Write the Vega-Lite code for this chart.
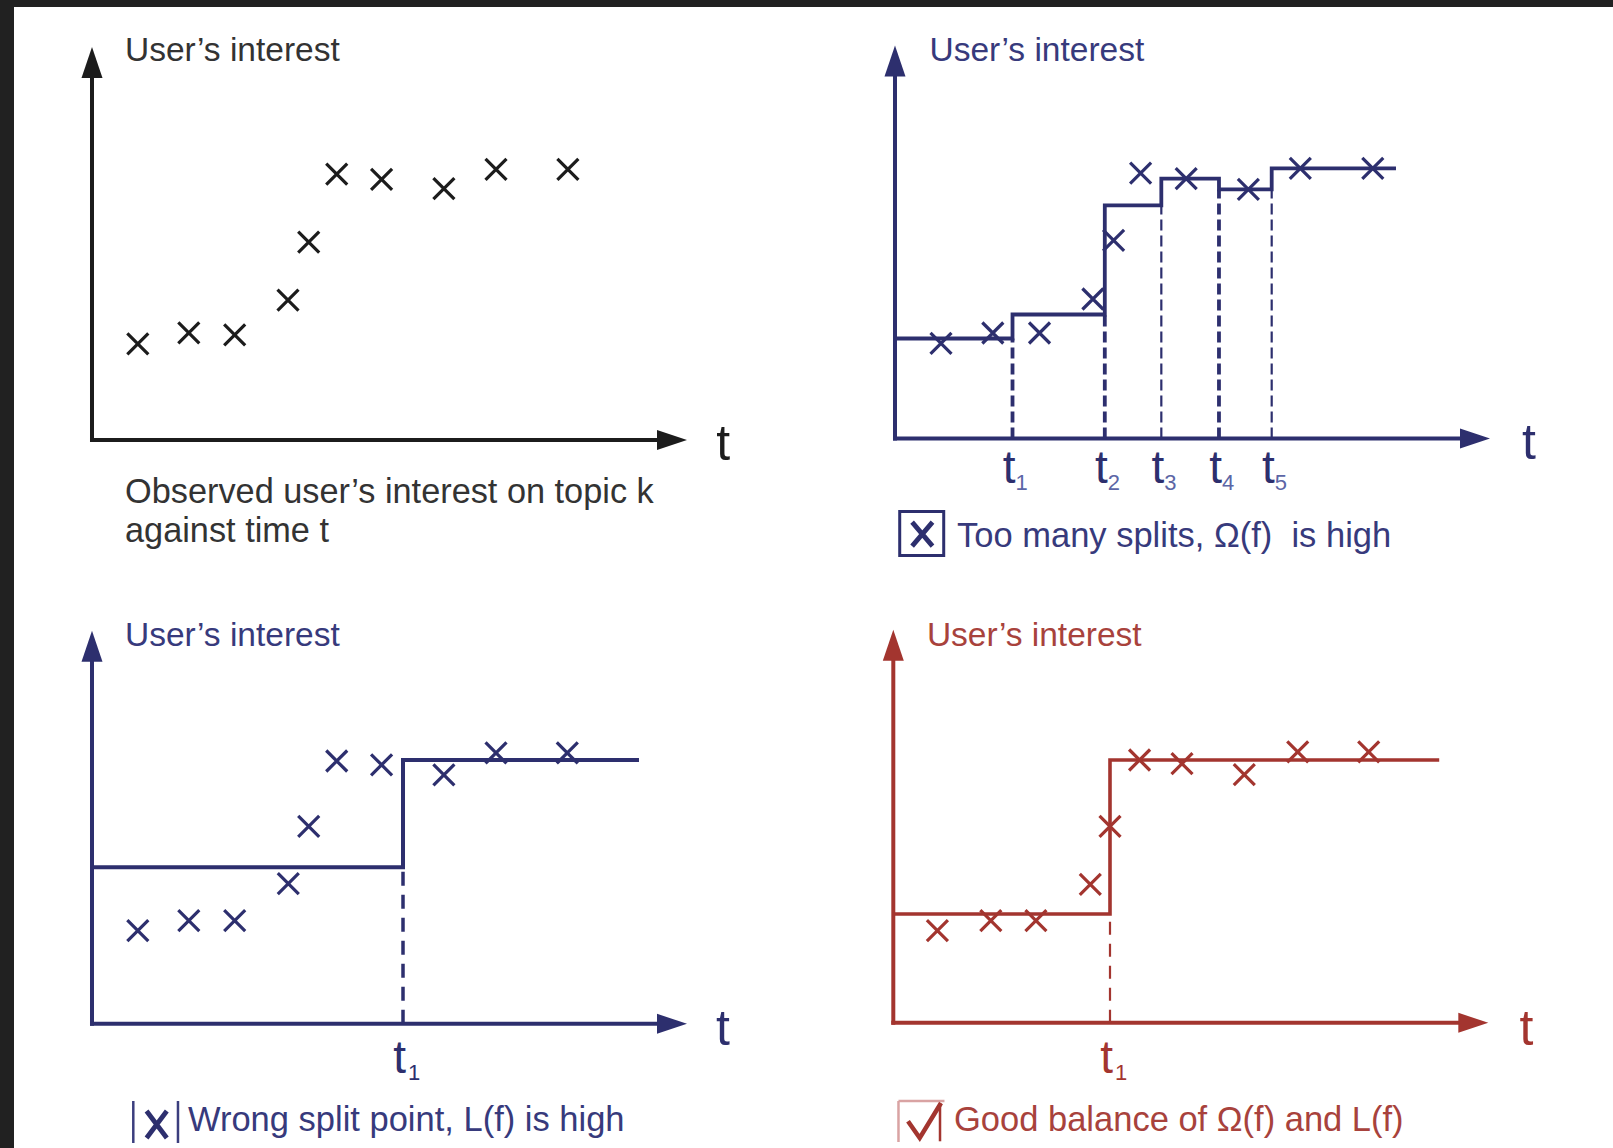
{
  "$schema": "https://vega.github.io/schema/vega-lite/v6.json",
  "background": "#212121",
  "padding": {"left": 14, "top": 7, "right": 0, "bottom": 0},
  "autosize": {"type": "pad"},
  "spacing": 0,
  "bounds": "flush",
  "columns": 2,
  "config": {"view": {"fill": "white", "stroke": null}, "text": {"font": "Liberation Sans"}},
  "concat": [
    {
      "width": 786, "height": 573,
      "encoding": {
        "x": {"field": "x", "type": "quantitative", "scale": {"domain": [-13.109, 118.992], "nice": false, "zero": false}, "axis": null},
        "y": {"field": "y", "type": "quantitative", "scale": {"domain": [-35.623, 110.178], "nice": false, "zero": false}, "axis": null}
      },
      "layer": [
        {"data": {"values": [{"x": 0, "y": 0, "x2": 0, "y2": 97}, {"x": 0, "y": 0, "x2": 97, "y2": 0}]},
         "mark": {"type": "rule", "color": "#1c1c1c", "strokeWidth": 4, "strokeCap": "square"},
         "encoding": {"x2": {"field": "x2"}, "y2": {"field": "y2"}}},
        {"data": {"values": [{"x": 0, "y": 100, "dir": "up"}, {"x": 100, "y": 0, "dir": "right"}]},
         "mark": {"type": "point", "filled": true, "size": 400, "opacity": 1, "color": "#1c1c1c", "strokeWidth": 0},
         "encoding": {"shape": {"field": "dir", "type": "nominal", "scale": {"domain": ["up", "right"], "range": ["M0,0L1.05,3.1L-1.05,3.1Z", "M0,0L-3,-1L-3,1Z"]}, "legend": null}}},
        {"data": {"values": [
          {"x": 7.70, "y": 24.43}, {"x": 16.27, "y": 27.23}, {"x": 23.98, "y": 26.72}, {"x": 32.94, "y": 35.62}, {"x": 36.42, "y": 50.38},
          {"x": 41.13, "y": 67.68}, {"x": 48.67, "y": 66.31}, {"x": 59.14, "y": 63.94}, {"x": 67.90, "y": 68.85}, {"x": 79.98, "y": 68.85}]},
         "mark": {"type": "point", "shape": "M-1,-1L1,1M-1,1L1,-1", "filled": false, "size": 441, "strokeWidth": 3.2, "color": "#1c1c1c", "opacity": 1}},
        {"data": {"values": [{"x": 5.55, "y": 96.44, "label": "User’s interest"}]},
         "mark": {"type": "text", "align": "left", "baseline": "alphabetic", "fontSize": 33.5, "color": "#333333"},
         "encoding": {"text": {"field": "label"}}},
        {"data": {"values": [
          {"x": 5.55, "y": -16.03, "label": "Observed user’s interest on topic k"},
          {"x": 5.55, "y": -25.95, "label": "against time t"}]},
         "mark": {"type": "text", "align": "left", "baseline": "alphabetic", "fontSize": 34.3, "color": "#333333"},
         "encoding": {"text": {"field": "label"}}},
        {"data": {"values": [{"x": 104.9, "y": -5.09, "label": "t"}]},
         "mark": {"type": "text", "align": "left", "baseline": "alphabetic", "fontSize": 50, "color": "#1c1c1c"},
         "encoding": {"text": {"field": "label"}}}
      ]
    },
    {
      "width": 813, "height": 573,
      "encoding": {
        "x": {"field": "x", "type": "quantitative", "scale": {"domain": [-15.966, 120.672], "nice": false, "zero": false}, "axis": null},
        "y": {"field": "y", "type": "quantitative", "scale": {"domain": [-36.031, 109.771], "nice": false, "zero": false}, "axis": null}
      },
      "layer": [
        {"data": {"values": [{"x": 0, "y": 0, "x2": 0, "y2": 97}, {"x": 0, "y": 0, "x2": 97, "y2": 0}]},
         "mark": {"type": "rule", "color": "#2d2f6e", "strokeWidth": 4, "strokeCap": "square"},
         "encoding": {"x2": {"field": "x2"}, "y2": {"field": "y2"}}},
        {"data": {"values": [{"x": 0, "y": 100, "dir": "up"}, {"x": 100, "y": 0, "dir": "right"}]},
         "mark": {"type": "point", "filled": true, "size": 400, "opacity": 1, "color": "#2d2f6e", "strokeWidth": 0},
         "encoding": {"shape": {"field": "dir", "type": "nominal", "scale": {"domain": ["up", "right"], "range": ["M0,0L1.05,3.1L-1.05,3.1Z", "M0,0L-3,-1L-3,1Z"]}, "legend": null}}},
        {"data": {"values": [
          {"x": 19.75, "y": 0, "y2": 25.42, "w": "thick"}, {"x": 35.26, "y": 0, "y2": 31.53, "w": "thick"},
          {"x": 44.76, "y": 0, "y2": 59.31, "w": "thin"}, {"x": 54.45, "y": 0, "y2": 63.36, "w": "thick"},
          {"x": 63.31, "y": 0, "y2": 63.36, "w": "thin"}]},
         "mark": {"type": "rule", "color": "#2d2f6e", "strokeDash": [11, 5]},
         "encoding": {"y2": {"field": "y2"}, "strokeWidth": {"field": "w", "type": "nominal", "scale": {"domain": ["thick", "thin"], "range": [3.8, 2.2]}, "legend": null}}},
        {"data": {"values": [
          {"i": 0, "x": 0, "y": 25.42}, {"i": 1, "x": 19.75, "y": 25.42}, {"i": 2, "x": 19.75, "y": 31.53}, {"i": 3, "x": 35.26, "y": 31.53},
          {"i": 4, "x": 35.26, "y": 59.31}, {"i": 5, "x": 44.76, "y": 59.31}, {"i": 6, "x": 44.76, "y": 66.08}, {"i": 7, "x": 54.45, "y": 66.08},
          {"i": 8, "x": 54.45, "y": 63.36}, {"i": 9, "x": 63.31, "y": 63.36}, {"i": 10, "x": 63.31, "y": 68.73}, {"i": 11, "x": 84.20, "y": 68.73}]},
         "mark": {"type": "line", "color": "#2d2f6e", "strokeWidth": 3.8, "strokeJoin": "miter"},
         "encoding": {"order": {"field": "i", "type": "quantitative"}}},
        {"data": {"values": [
          {"x": 7.73, "y": 24.20}, {"x": 16.44, "y": 26.82}, {"x": 24.29, "y": 26.82}, {"x": 33.26, "y": 35.47}, {"x": 36.74, "y": 50.36},
          {"x": 41.28, "y": 67.53}, {"x": 48.94, "y": 66.08}, {"x": 59.39, "y": 63.36}, {"x": 68.12, "y": 68.73}, {"x": 80.30, "y": 68.73}]},
         "mark": {"type": "point", "shape": "M-1,-1L1,1M-1,1L1,-1", "filled": false, "size": 441, "strokeWidth": 3.2, "color": "#2d2f6e", "opacity": 1}},
        {"data": {"values": [
          {"x": 19.75, "y": -11.43, "lab": "t", "sub": "1"}, {"x": 35.26, "y": -11.43, "lab": "t", "sub": "2"},
          {"x": 44.76, "y": -11.43, "lab": "t", "sub": "3"}, {"x": 54.45, "y": -11.43, "lab": "t", "sub": "4"},
          {"x": 63.31, "y": -11.43, "lab": "t", "sub": "5"}]},
         "layer": [
           {"mark": {"type": "text", "align": "right", "baseline": "alphabetic", "dx": 3, "fontSize": 46, "color": "#2d2f6e"}, "encoding": {"text": {"field": "lab"}}},
           {"mark": {"type": "text", "align": "left", "baseline": "alphabetic", "dx": 3, "dy": 7, "fontSize": 22, "color": "#5c66a6"}, "encoding": {"text": {"field": "sub"}}}
         ]},
        {"data": {"values": [{"x": 4.49, "y": -24.17}]},
         "mark": {"type": "point", "shape": "square", "filled": false, "size": 1936, "strokeWidth": 3, "color": "#2d2f6e", "opacity": 1}},
        {"data": {"values": [{"x": 4.59, "y": -24.37}]},
         "mark": {"type": "point", "shape": "M-0.85,-1L0.85,1M-0.85,1L0.85,-1", "filled": false, "size": 576, "strokeWidth": 4.8, "color": "#2d2f6e", "opacity": 1}},
        {"data": {"values": [
          {"x": 5.8, "y": 96.03, "label": "User’s interest", "fs": "a"},
          {"x": 10.42, "y": -27.63, "label": "Too many splits, Ω(f)\u00a0 is high", "fs": "b"}]},
         "mark": {"type": "text", "align": "left", "baseline": "alphabetic", "color": "#373a7c"},
         "encoding": {"text": {"field": "label"}, "size": {"field": "fs", "type": "nominal", "scale": {"domain": ["a", "b"], "range": [33.5, 34.5]}, "legend": null}}},
        {"data": {"values": [{"x": 105.38, "y": -5.24, "label": "t"}]},
         "mark": {"type": "text", "align": "left", "baseline": "alphabetic", "fontSize": 50, "color": "#2d2f6e"},
         "encoding": {"text": {"field": "label"}}}
      ]
    },
    {
      "width": 786, "height": 568,
      "encoding": {
        "x": {"field": "x", "type": "quantitative", "scale": {"domain": [-13.109, 118.992], "nice": false, "zero": false}, "axis": null},
        "y": {"field": "y", "type": "quantitative", "scale": {"domain": [-31.603, 112.926], "nice": false, "zero": false}, "axis": null}
      },
      "layer": [
        {"data": {"values": [{"x": 0, "y": 0, "x2": 0, "y2": 97}, {"x": 0, "y": 0, "x2": 97, "y2": 0}]},
         "mark": {"type": "rule", "color": "#2d2f6e", "strokeWidth": 4, "strokeCap": "square"},
         "encoding": {"x2": {"field": "x2"}, "y2": {"field": "y2"}}},
        {"data": {"values": [{"x": 0, "y": 100, "dir": "up"}, {"x": 100, "y": 0, "dir": "right"}]},
         "mark": {"type": "point", "filled": true, "size": 400, "opacity": 1, "color": "#2d2f6e", "strokeWidth": 0},
         "encoding": {"shape": {"field": "dir", "type": "nominal", "scale": {"domain": ["up", "right"], "range": ["M0,0L1.05,3.1L-1.05,3.1Z", "M0,0L-3,-1L-3,1Z"]}, "legend": null}}},
        {"data": {"values": [{"x": 52.27, "y": 0, "y2": 39.82}]},
         "mark": {"type": "rule", "color": "#2d2f6e", "strokeWidth": 3.5, "strokeDash": [14, 9]},
         "encoding": {"y2": {"field": "y2"}}},
        {"data": {"values": [{"i": 0, "x": 0, "y": 39.82}, {"i": 1, "x": 52.27, "y": 39.82}, {"i": 2, "x": 52.27, "y": 67.12}, {"i": 3, "x": 91.93, "y": 67.12}]},
         "mark": {"type": "line", "color": "#2d2f6e", "strokeWidth": 4, "strokeJoin": "miter"},
         "encoding": {"order": {"field": "i", "type": "quantitative"}}},
        {"data": {"values": [
          {"x": 7.70, "y": 23.69}, {"x": 16.27, "y": 26.26}, {"x": 23.98, "y": 26.26}, {"x": 32.99, "y": 35.67}, {"x": 36.42, "y": 50.23},
          {"x": 41.13, "y": 66.87}, {"x": 48.67, "y": 65.90}, {"x": 59.14, "y": 63.31}, {"x": 67.90, "y": 68.91}, {"x": 79.88, "y": 68.91}]},
         "mark": {"type": "point", "shape": "M-1,-1L1,1M-1,1L1,-1", "filled": false, "size": 441, "strokeWidth": 3.2, "color": "#2d2f6e", "opacity": 1}},
        {"data": {"values": [{"x": 52.27, "y": -12.52, "lab": "t", "sub": "1"}]},
         "layer": [
           {"mark": {"type": "text", "align": "right", "baseline": "alphabetic", "dx": 3, "fontSize": 46, "color": "#2d2f6e"}, "encoding": {"text": {"field": "lab"}}},
           {"mark": {"type": "text", "align": "left", "baseline": "alphabetic", "dx": 5, "dy": 7, "fontSize": 22, "color": "#2d2f6e"}, "encoding": {"text": {"field": "sub"}}}
         ]},
        {"data": {"values": [{"x": 6.94, "y": -19.64, "y2": -30.33}, {"x": 14.45, "y": -19.64, "y2": -30.33}]},
         "mark": {"type": "rule", "color": "#3b3e7e", "strokeWidth": 2.5},
         "encoding": {"y2": {"field": "y2"}}},
        {"data": {"values": [{"x": 10.87, "y": -25.62}]},
         "mark": {"type": "point", "shape": "M-0.75,-1L0.75,1M-0.75,1L0.75,-1", "filled": false, "size": 729, "strokeWidth": 4.8, "color": "#2d2f6e", "opacity": 1}},
        {"data": {"values": [
          {"x": 5.55, "y": 96.13, "label": "User’s interest", "fs": "a"},
          {"x": 16.13, "y": -27.28, "label": "Wrong split point, L(f) is high", "fs": "b"}]},
         "mark": {"type": "text", "align": "left", "baseline": "alphabetic", "color": "#373a7c"},
         "encoding": {"text": {"field": "label"}, "size": {"field": "fs", "type": "nominal", "scale": {"domain": ["a", "b"], "range": [33.5, 34.5]}, "legend": null}}},
        {"data": {"values": [{"x": 104.87, "y": -5.39, "label": "t"}]},
         "mark": {"type": "text", "align": "left", "baseline": "alphabetic", "fontSize": 50, "color": "#2d2f6e"},
         "encoding": {"text": {"field": "label"}}}
      ]
    },
    {
      "width": 813, "height": 568,
      "encoding": {
        "x": {"field": "x", "type": "quantitative", "scale": {"domain": [-15.681, 120.958], "nice": false, "zero": false}, "axis": null},
        "y": {"field": "y", "type": "quantitative", "scale": {"domain": [-31.858, 112.672], "nice": false, "zero": false}, "axis": null}
      },
      "layer": [
        {"data": {"values": [{"x": 0, "y": 0, "x2": 0, "y2": 97}, {"x": 0, "y": 0, "x2": 97, "y2": 0}]},
         "mark": {"type": "rule", "color": "#a3352f", "strokeWidth": 4, "strokeCap": "square"},
         "encoding": {"x2": {"field": "x2"}, "y2": {"field": "y2"}}},
        {"data": {"values": [{"x": 0, "y": 100, "dir": "up"}, {"x": 100, "y": 0, "dir": "right"}]},
         "mark": {"type": "point", "filled": true, "size": 400, "opacity": 1, "color": "#a3352f", "strokeWidth": 0},
         "encoding": {"shape": {"field": "dir", "type": "nominal", "scale": {"domain": ["up", "right"], "range": ["M0,0L1.05,3.1L-1.05,3.1Z", "M0,0L-3,-1L-3,1Z"]}, "legend": null}}},
        {"data": {"values": [{"x": 36.42, "y": 0, "y2": 27.68}]},
         "mark": {"type": "rule", "color": "#a3352f", "strokeWidth": 2.2, "strokeDash": [13, 9]},
         "encoding": {"y2": {"field": "y2"}}},
        {"data": {"values": [{"i": 0, "x": 0, "y": 27.68}, {"i": 1, "x": 36.42, "y": 27.68}, {"i": 2, "x": 36.42, "y": 66.87}, {"i": 3, "x": 91.75, "y": 66.87}]},
         "mark": {"type": "line", "color": "#a3352f", "strokeWidth": 3.6, "strokeJoin": "miter"},
         "encoding": {"order": {"field": "i", "type": "quantitative"}}},
        {"data": {"values": [
          {"x": 7.41, "y": 23.44}, {"x": 16.39, "y": 26.01}, {"x": 23.97, "y": 26.01}, {"x": 33.11, "y": 35.24}, {"x": 36.42, "y": 49.97},
          {"x": 41.39, "y": 66.87}, {"x": 48.52, "y": 65.93}, {"x": 58.99, "y": 63.16}, {"x": 67.97, "y": 68.91}, {"x": 79.90, "y": 68.91}]},
         "mark": {"type": "point", "shape": "M-1,-1L1,1M-1,1L1,-1", "filled": false, "size": 441, "strokeWidth": 3.2, "color": "#a3352f", "opacity": 1}},
        {"data": {"values": [{"x": 36.42, "y": -12.77, "lab": "t", "sub": "1"}]},
         "layer": [
           {"mark": {"type": "text", "align": "right", "baseline": "alphabetic", "dx": 3, "fontSize": 46, "color": "#a3352f"}, "encoding": {"text": {"field": "lab"}}},
           {"mark": {"type": "text", "align": "left", "baseline": "alphabetic", "dx": 5, "dy": 7, "fontSize": 22, "color": "#a3352f"}, "encoding": {"text": {"field": "sub"}}}
         ]},
        {"data": {"values": [{"x": 0.87, "y": -19.90, "x2": 0.87, "y2": -30.33}, {"x": 0.87, "y": -19.90, "x2": 8.6, "y2": -19.90}]},
         "mark": {"type": "rule", "color": "#d9a3a3", "strokeWidth": 2.5},
         "encoding": {"x2": {"field": "x2"}, "y2": {"field": "y2"}}},
        {"data": {"values": [{"x": 7.85, "y": -20.41, "y2": -30.15}]},
         "mark": {"type": "rule", "color": "#a3352f", "strokeWidth": 2.5},
         "encoding": {"y2": {"field": "y2"}}},
        {"data": {"values": [{"i": 0, "x": 2.47, "y": -25.06}, {"i": 1, "x": 4.44, "y": -29.31}, {"i": 2, "x": 8.02, "y": -20.41}]},
         "mark": {"type": "line", "color": "#a3352f", "strokeWidth": 4.5, "strokeJoin": "miter"},
         "encoding": {"order": {"field": "i", "type": "quantitative"}}},
        {"data": {"values": [
          {"x": 5.65, "y": 95.88, "label": "User’s interest", "fs": "a"},
          {"x": 10.2, "y": -27.53, "label": "Good balance of Ω(f) and L(f)", "fs": "b"}]},
         "mark": {"type": "text", "align": "left", "baseline": "alphabetic", "color": "#a8423c"},
         "encoding": {"text": {"field": "label"}, "size": {"field": "fs", "type": "nominal", "scale": {"domain": ["a", "b"], "range": [33.5, 35.8]}, "legend": null}}},
        {"data": {"values": [{"x": 105.26, "y": -5.65, "label": "t"}]},
         "mark": {"type": "text", "align": "left", "baseline": "alphabetic", "fontSize": 50, "color": "#a3352f"},
         "encoding": {"text": {"field": "label"}}}
      ]
    }
  ]
}
